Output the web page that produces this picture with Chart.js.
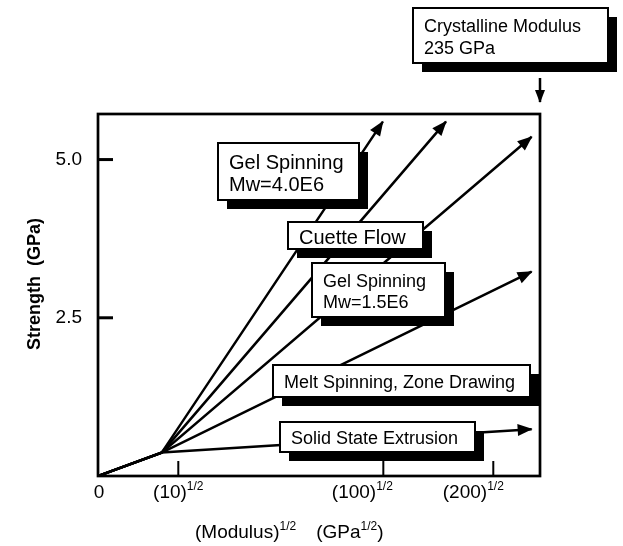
<!DOCTYPE html>
<html>
<head>
<meta charset="utf-8">
<script src="https://cdn.jsdelivr.net/npm/chart.js@4.4.1/dist/chart.umd.min.js"></script>
<style>
  html, body { margin: 0; padding: 0; background: #fff; }
  #wrap { width: 623px; height: 546px; }
</style>
</head>
<body>
<div id="wrap"><canvas id="chart"></canvas></div>
<script>
// x = (Modulus)^1/2 in GPa^1/2, right edge of the frame = (235)^1/2
const xMax = 15.33;
const yMax = 5.72;

// every line starts at the origin, goes to a common kink, then fans out to its arrow tip
const seriesNames = ['Gel Spinning Mw=4.0E6', 'Cuette Flow', 'Gel Spinning Mw=1.5E6',
                     'Melt Spinning, Zone Drawing', 'Solid State Extrusion'];
const startX = [0, 2.21];
const startY = [0, 0.37];
const tipX = [9.88, 12.07, 15.04, 15.04, 15.04];
const tipY = [5.60, 5.60, 5.36, 3.23, 0.74];

// small arrow pointing down at the crystalline modulus
const markerX = [15.33, 15.33];
const markerY = [6.29, 5.91];

// ticks, placed where the (schematic) figure puts them
const xTickValues = [0, 2.785, 9.896, 13.71];
const xTickLabels = ['0', '(10)', '(100)', '(200)'];
const xTickPowers = ['', '1/2', '1/2', '1/2'];
const yTickValues = [2.5, 5.0];

const FONT = '"Liberation Sans", Arial, Helvetica, sans-serif';

// labelled boxes with drop shadow (top-left corner in data units, size in px)
const boxes = [
  { text: ['Gel Spinning', 'Mw=4.0E6'], x: 4.16, y: 5.26, w: 141, h: 57, size: 20, lh: 22 },
  { text: ['Cuette Flow'], x: 6.59, y: 4.01, w: 135, h: 27, size: 20 },
  { text: ['Gel Spinning', 'Mw=1.5E6'], x: 7.42, y: 3.37, w: 133, h: 54, size: 18, lh: 21 },
  { text: ['Melt Spinning, Zone Drawing'], x: 6.07, y: 1.75, w: 257, h: 32, size: 18 },
  { text: ['Solid State Extrusion'], x: 6.31, y: 0.85, w: 195, h: 30, size: 18 },
  { text: ['Crystalline Modulus', '235 GPa'], x: 10.93, y: 7.39, w: 195, h: 55, size: 18, lh: 22 }
];

function arrowHead(ctx, x1, y1, x2, y2, len, half) {
  const a = Math.atan2(y2 - y1, x2 - x1);
  const c = Math.cos(a), s = Math.sin(a);
  ctx.beginPath();
  ctx.moveTo(x2 + c, y2 + s);
  ctx.lineTo(x2 - len * c + half * s, y2 - len * s - half * c);
  ctx.lineTo(x2 - len * c - half * s, y2 - len * s + half * c);
  ctx.closePath();
  ctx.fill();
}

// text with superscripts: runs of {t, sup} or {gap}
function runsWidth(ctx, runs, size, supSize) {
  let w = 0;
  runs.forEach(r => {
    if (r.gap) { w += r.gap; return; }
    ctx.font = (r.sup ? supSize : size) + 'px ' + FONT;
    w += ctx.measureText(r.t).width;
  });
  return w;
}
function drawRuns(ctx, runs, x, y, size, supSize, rise) {
  runs.forEach(r => {
    if (r.gap) { x += r.gap; return; }
    ctx.font = (r.sup ? supSize : size) + 'px ' + FONT;
    ctx.fillText(r.t, x, r.sup ? y - rise : y);
    x += ctx.measureText(r.t).width;
  });
}

const datasets = seriesNames.map((name, i) => ({
  label: name,
  data: [
    { x: startX[0], y: startY[0] },
    { x: startX[1], y: startY[1] },
    { x: tipX[i], y: tipY[i] }
  ],
  borderColor: '#000',
  borderWidth: 2.5,
  pointRadius: 0,
  tension: 0,
  fill: false
}));
datasets.push({
  label: 'Crystalline Modulus',
  data: markerX.map((x, i) => ({ x: x, y: markerY[i] })),
  borderColor: '#000',
  borderWidth: 2.5,
  pointRadius: 0,
  clip: false,
  headLen: 12,
  headHalf: 5
});

const schematic = {
  id: 'schematic',
  afterDatasetsDraw(chart) {
    const ctx = chart.ctx;
    const area = chart.chartArea;
    const xs = chart.scales.x, ys = chart.scales.y;
    ctx.save();
    ctx.fillStyle = '#000';
    ctx.strokeStyle = '#000';

    // arrow heads at the end of every line
    chart.data.datasets.forEach((ds, i) => {
      const pts = chart.getDatasetMeta(i).data;
      const a = pts[pts.length - 2], b = pts[pts.length - 1];
      arrowHead(ctx, a.x, a.y, b.x, b.y, ds.headLen || 14, ds.headHalf || 6);
    });

    // frame
    ctx.lineWidth = 2.7;
    ctx.strokeRect(area.left, area.top, area.right - area.left, area.bottom - area.top);

    // inside ticks
    ctx.lineWidth = 3;
    yTickValues.forEach(v => {
      const py = ys.getPixelForValue(v);
      ctx.beginPath(); ctx.moveTo(area.left, py); ctx.lineTo(area.left + 15, py); ctx.stroke();
    });
    ctx.lineWidth = 2;
    xTickValues.forEach(v => {
      if (v === 0) return;
      const px = xs.getPixelForValue(v);
      ctx.beginPath(); ctx.moveTo(px, area.bottom); ctx.lineTo(px, area.bottom - 15); ctx.stroke();
    });

    // boxes with shadow
    boxes.forEach(b => {
      const bx = Math.round(xs.getPixelForValue(b.x));
      const by = Math.round(ys.getPixelForValue(b.y));
      ctx.fillStyle = '#000';
      ctx.fillRect(bx + 9, by + 9, b.w, b.h);
      ctx.fillStyle = '#fff';
      ctx.fillRect(bx, by, b.w, b.h);
      ctx.lineWidth = 2;
      ctx.strokeRect(bx, by, b.w, b.h);
      ctx.fillStyle = '#000';
      ctx.font = b.size + 'px ' + FONT;
      ctx.textAlign = 'left';
      ctx.textBaseline = 'alphabetic';
      const lh = b.lh || b.size;
      const cy = by + b.h / 2 + 1;
      b.text.forEach((t, k) => {
        const mid = cy + (k - (b.text.length - 1) / 2) * lh;
        ctx.fillText(t, bx + 11, mid + b.size * 0.36);
      });
    });
    ctx.restore();
  },
  afterDraw(chart) {
    const ctx = chart.ctx;
    const area = chart.chartArea;
    const xs = chart.scales.x;
    const opts = chart.options.plugins.schematic;
    ctx.save();
    ctx.fillStyle = '#000';
    ctx.textAlign = 'left';
    ctx.textBaseline = 'alphabetic';

    // x tick labels with superscripts
    xTickValues.forEach((v, i) => {
      const runs = [{ t: xTickLabels[i] }];
      if (xTickPowers[i]) runs.push({ t: xTickPowers[i], sup: true });
      const w = runsWidth(ctx, runs, 19, 12);
      const cx = xs.getPixelForValue(v) + opts.xLabelShift[i];
      drawRuns(ctx, runs, cx - w / 2, area.bottom + 22, 19, 12, 8);
    });

    // x axis title
    const title = [{ t: '(Modulus)' }, { t: '1/2', sup: true }, { gap: 20 },
                   { t: '(GPa' }, { t: '1/2', sup: true }, { t: ')' }];
    drawRuns(ctx, title, opts.xTitleLeft, area.bottom + 62, 19, 12, 8);

    // y axis title
    ctx.translate(40, opts.yTitleMid);
    ctx.rotate(-Math.PI / 2);
    ctx.textAlign = 'center';
    ctx.font = 'bold 18px ' + FONT;
    ctx.fillText('Strength  (GPa)', 0, 0);
    ctx.restore();
  }
};

new Chart(document.getElementById('chart'), {
  type: 'line',
  data: { datasets: datasets },
  plugins: [schematic],
  options: {
    responsive: true,
    maintainAspectRatio: false,
    animation: false,
    layout: { padding: { left: 0, top: 114, right: 83, bottom: 0 } },
    plugins: {
      legend: { display: false },
      tooltip: { enabled: false },
      schematic: { xLabelShift: [1, 0, -21, -20], xTitleLeft: 195, yTitleMid: 284 }
    },
    scales: {
      x: {
        type: 'linear',
        min: 0,
        max: xMax,
        grid: { display: false, drawTicks: false },
        border: { display: false },
        ticks: { display: false },
        afterFit(scale) { scale.height = 70; }
      },
      y: {
        type: 'linear',
        min: 0,
        max: yMax,
        grid: { display: false, drawTicks: false },
        border: { display: false },
        afterBuildTicks(scale) { scale.ticks = yTickValues.map(v => ({ value: v })); },
        afterFit(scale) { scale.width = 98; },
        ticks: {
          color: '#000',
          padding: 16,
          font: { family: FONT, size: 19 },
          callback: v => Number(v).toFixed(1)
        }
      }
    }
  }
});
</script>
</body>
</html>
